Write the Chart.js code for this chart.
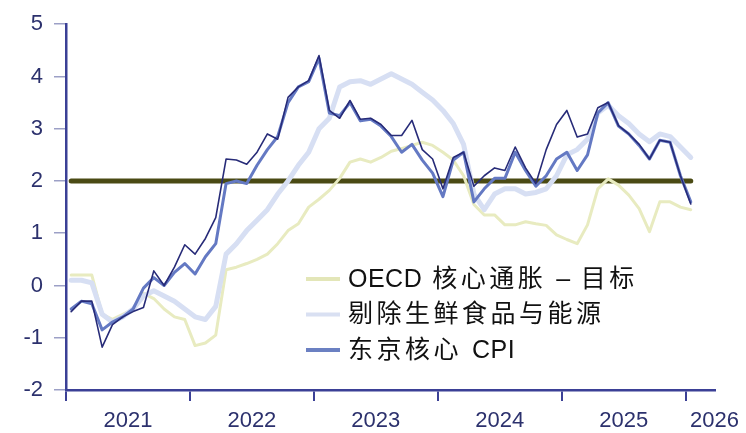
<!DOCTYPE html>
<html>
<head>
<meta charset="utf-8">
<script src="https://cdn.jsdelivr.net/npm/chart.js@4.4.1/dist/chart.umd.min.js"></script>
<style>
html, body { margin: 0; padding: 0; background: #fff; }
#wrap { width: 746px; height: 433px; }
</style>
</head>
<body>
<div id="wrap"><canvas id="myChart" width="746" height="433"></canvas></div>
<script>
// monthly, Jan 2021 .. Jan 2026
var months = [];
for (var yr = 2021; yr <= 2025; yr++) {
    for (var m = 1; m <= 12; m++) months.push(yr + '-' + (m < 10 ? '0' + m : m));
}
months.push('2026-01');

var years = ['2021', '2022', '2023', '2024', '2025', '2026'];
var yTicks = [-2, -1, 0, 1, 2, 3, 4, 5];

var oecdGap = [0.2, 0.2, 0.2, -0.55, -0.65, -0.55, -0.45, -0.15, -0.25, -0.45, -0.6, -0.65,
    -1.15, -1.1, -0.95, 0.3, 0.35, 0.42, 0.5, 0.6, 0.8, 1.05, 1.18, 1.5,
    1.65, 1.82, 2.05, 2.36, 2.42, 2.36, 2.45, 2.57, 2.62, 2.68, 2.74, 2.68,
    2.55, 2.4, 2.1, 1.55, 1.35, 1.35, 1.16, 1.16, 1.22, 1.18, 1.15, 0.97,
    0.88, 0.8, 1.16, 1.85, 2.04, 1.92, 1.73, 1.47, 1.03, 1.6, 1.6, 1.5, 1.45];

var exFoodEnergy = [0.1, 0.1, 0.05, -0.55, -0.7, -0.6, -0.45, -0.2, -0.1, -0.2, -0.3, -0.45,
    -0.6, -0.65, -0.4, 0.6, 0.8, 1.05, 1.25, 1.45, 1.75, 2.0, 2.3, 2.55,
    3.0, 3.2, 3.8, 3.9, 3.92, 3.85, 3.95, 4.05, 3.95, 3.85, 3.7, 3.55,
    3.35, 3.1, 2.7, 1.75, 1.45, 1.75, 1.85, 1.85, 1.75, 1.78, 1.85, 2.1,
    2.5, 2.6, 2.8, 3.3, 3.45, 3.25, 3.1, 2.9, 2.75, 2.9, 2.85, 2.65, 2.45];

var tokyoCore = [-0.45, -0.3, -0.35, -0.85, -0.7, -0.6, -0.45, -0.05, 0.15, 0.0, 0.25, 0.42,
    0.22, 0.55, 0.8, 1.95, 2.0, 1.95, 2.3, 2.6, 2.85, 3.5, 3.8, 3.9,
    4.35, 3.3, 3.25, 3.5, 3.15, 3.18, 3.05, 2.85, 2.55, 2.7, 2.4, 2.15,
    1.7, 2.4, 2.55, 1.6, 1.85, 2.05, 2.05, 2.55, 2.2, 1.9, 2.1, 2.42,
    2.55, 2.2, 2.5, 3.3, 3.5, 3.05, 2.9, 2.68, 2.42, 2.78, 2.74, 2.1, 1.6];

var tokyoHeadline = [-0.5, -0.3, -0.3, -1.18, -0.75, -0.6, -0.5, -0.42, 0.28, 0.0, 0.35, 0.78,
    0.6, 0.9, 1.3, 2.42, 2.4, 2.32, 2.55, 2.9, 2.8, 3.6, 3.8, 3.92,
    4.4, 3.35, 3.2, 3.54, 3.18, 3.2, 3.08, 2.87, 2.87, 3.16, 2.6, 2.42,
    1.85, 2.45, 2.55, 1.9, 2.1, 2.25, 2.2, 2.65, 2.25, 1.95, 2.6, 3.08,
    3.35, 2.84, 2.9, 3.4, 3.5, 3.06, 2.9, 2.7, 2.42, 2.78, 2.74, 2.1, 1.56];

var target = 2;

var xMin = -0.5, xMax = 62.3;

function pts(arr) {
    return arr.map(function (v, i) { return { x: i, y: v }; });
}

var tickFont = { family: '"Liberation Sans", Arial, sans-serif', size: 22 };
var axisColor = '#3b4096';
var labelColor = '#2c316d';

// draws text char by char: wide CJK, tight latin
function spacedText(ctx, text, x, y) {
    for (var i = 0; i < text.length; i++) {
        var ch = text[i];
        ctx.fillText(ch, x, y);
        if (ch === ' ') x += 10;
        else if (ch.charCodeAt(0) > 0x2e80) x += 28.5;
        else x += ctx.measureText(ch).width + 0.5;
    }
}

var legendPlugin = {
    id: 'boxLegend',
    afterDatasetsDraw: function (chart) {
        var ctx = chart.ctx;
        var items = chart.data.datasets.filter(function (d) { return d.inLegend; });
        ctx.save();
        ctx.fillStyle = '#ffffff';
        ctx.fillRect(342, 262, 312, 106);
        ctx.font = '25px "Liberation Sans", "Noto Sans CJK SC", sans-serif';
        ctx.textBaseline = 'middle';
        items.forEach(function (d, i) {
            var y = 279 + i * 35.5;
            ctx.strokeStyle = d.legendColor;
            ctx.lineWidth = 4;
            ctx.beginPath();
            ctx.moveTo(306, y);
            ctx.lineTo(340, y);
            ctx.stroke();
            ctx.fillStyle = '#111111';
            spacedText(ctx, d.label, 348, y + 1);
        });
        ctx.restore();
    }
};

var ctx = document.getElementById('myChart').getContext('2d');
var config = {
    type: 'line',
    data: {
        datasets: [{
            label: 'Tokyo CPI',
            data: pts(tokyoHeadline),
            borderColor: '#272b78',
            borderWidth: 1.6,
            order: 0,
            inLegend: false
        }, {
            label: '东京核心 CPI',
            data: pts(tokyoCore),
            borderColor: '#6479c3',
            borderWidth: 3,
            order: 1,
            inLegend: true,
            legendColor: '#6b80c2'
        }, {
            label: '剔除生鲜食品与能源',
            data: pts(exFoodEnergy),
            borderColor: '#d7dff3',
            borderWidth: 5,
            order: 2,
            inLegend: true,
            legendColor: '#d9e0f2'
        }, {
            label: 'OECD 核心通胀 – 目标',
            data: pts(oecdGap),
            borderColor: '#e8ebc0',
            borderWidth: 3,
            order: 3,
            inLegend: true,
            legendColor: '#e3e6b8'
        }, {
            label: 'target',
            data: [{ x: 0, y: target }, { x: months.length - 1, y: target }],
            borderColor: '#4a4a14',
            borderWidth: 5,
            order: 4,
            inLegend: false
        }].reverse()
    },
    options: {
        responsive: false,
        animation: false,
        devicePixelRatio: 1,
        layout: { padding: { left: 0, top: 22, right: 31, bottom: 0 } },
        elements: {
            point: { radius: 0 },
            line: { tension: 0, fill: false, borderCapStyle: 'round', borderJoinStyle: 'round' }
        },
        plugins: {
            legend: { display: false },
            tooltip: { enabled: false }
        },
        scales: {
            x: {
                type: 'linear',
                position: 'bottom',
                weight: 0,
                min: xMin,
                max: xMax,
                afterBuildTicks: function (scale) {
                    scale.ticks = years.map(function (y, i) { return { value: i * 12 - 0.5 }; });
                },
                afterFit: function (scale) { scale.height = 11; },
                grid: { drawOnChartArea: false, drawTicks: true, tickLength: 11, color: axisColor, lineWidth: 2 },
                border: { color: axisColor, width: 2.5 },
                ticks: { display: false }
            },
            x2: {
                type: 'linear',
                position: 'bottom',
                weight: 1,
                min: xMin,
                max: xMax,
                afterBuildTicks: function (scale) {
                    scale.ticks = years.map(function (y, i) {
                        return { value: i < years.length - 1 ? i * 12 + 5.5 : xMax };
                    });
                },
                afterFit: function (scale) { scale.height = 32; },
                grid: { display: false, drawTicks: false },
                border: { display: false },
                ticks: {
                    font: tickFont,
                    color: labelColor,
                    padding: 7,
                    maxRotation: 0,
                    autoSkip: false,
                    callback: function (value, index) { return years[index]; }
                }
            },
            y: {
                min: -2,
                max: 5,
                afterBuildTicks: function (scale) {
                    scale.ticks = yTicks.map(function (v) { return { value: v }; });
                },
                afterFit: function (scale) { scale.width = 66; },
                grid: { drawOnChartArea: false, drawTicks: true, tickLength: 12, color: '#9ca0c6', lineWidth: 1.5 },
                border: { color: axisColor, width: 2.5 },
                ticks: {
                    font: tickFont,
                    color: labelColor,
                    padding: 11,
                    callback: function (v) { return String(v); }
                }
            }
        }
    },
    plugins: [legendPlugin]
};

var chart = new Chart(ctx, config);
</script>
</body>
</html>
